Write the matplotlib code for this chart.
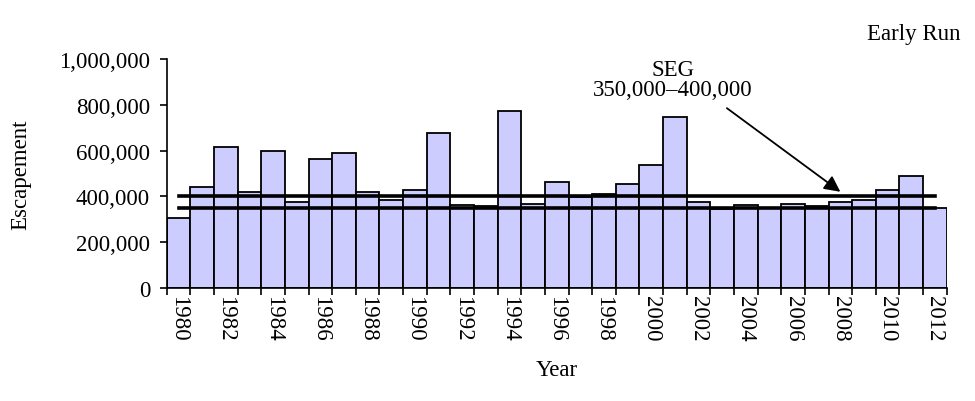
import numpy as np
import matplotlib.pyplot as plt

years = list(range(1980, 2013))
escapement = [305000, 440000, 614000, 420000, 596000, 376000, 561000, 588000,
              420000, 385000, 429000, 676000, 361000, 360000, 773000, 367000,
              464000, 398000, 411000, 455000, 535000, 746000, 376000, 347000,
              361000, 350000, 367000, 358000, 376000, 385000, 429000, 491000,
              350000]
seg_low = 350000
seg_high = 400000

plt.rcParams['font.family'] = ['Liberation Serif', 'DejaVu Serif']
fs = 16.5

fig = plt.figure(figsize=(9.75, 4.02), dpi=100)
ax = fig.add_axes([0.171, 0.281, 0.8, 0.57])

x = np.arange(len(years))
ax.bar(x, escapement, width=1.0, color='#ccccff', edgecolor='black', linewidth=1.3)
ax.plot([x[0], x[-1]], [seg_high, seg_high], color='black', lw=2.6)
ax.plot([x[0], x[-1]], [seg_low, seg_low], color='black', lw=2.6)

ax.set_xlim(-0.5, len(years) - 0.5)
ax.set_ylim(0, 1000000)
ax.set_yticks(range(0, 1000001, 200000))
ax.set_yticklabels([f'{v:,}' for v in range(0, 1000001, 200000)])

# ticks between the bars, labels every other year at bar centres
ax.set_xticks(np.arange(-0.5, len(years), 1.0))
ax.set_xticklabels([])
ax.set_xticks(x[::2], minor=True)
ax.set_xticklabels([str(y) for y in years[::2]], minor=True, rotation=-90)
ax.tick_params(axis='x', which='minor', length=0, labelsize=fs, pad=5)
ax.tick_params(axis='x', which='major', length=5, width=1.2, direction='out')
ax.tick_params(axis='y', length=5, width=1.2, labelsize=fs, pad=7)

for s in ['top', 'right']:
    ax.spines[s].set_visible(False)
for s in ['left', 'bottom']:
    ax.spines[s].set_linewidth(1.2)

ax.set_xlabel('Year', fontsize=fs, labelpad=13)
ax.set_ylabel('Escapement', fontsize=fs, labelpad=20)

ax.text(20.9, 1000000, 'SEG\n350,000\u2013400,000', ha='center', va='top',
        fontsize=fs, linespacing=0.95)
ax.annotate('', xy=(28.0, 420000), xytext=(23.2, 785000),
            arrowprops=dict(arrowstyle='-|>', color='black', lw=1.3,
                            mutation_scale=24, shrinkA=0, shrinkB=0))

fig.text(0.985, 0.915, 'Early Run', ha='right', va='center', fontsize=fs)

fig.savefig('out.png', dpi=100)
